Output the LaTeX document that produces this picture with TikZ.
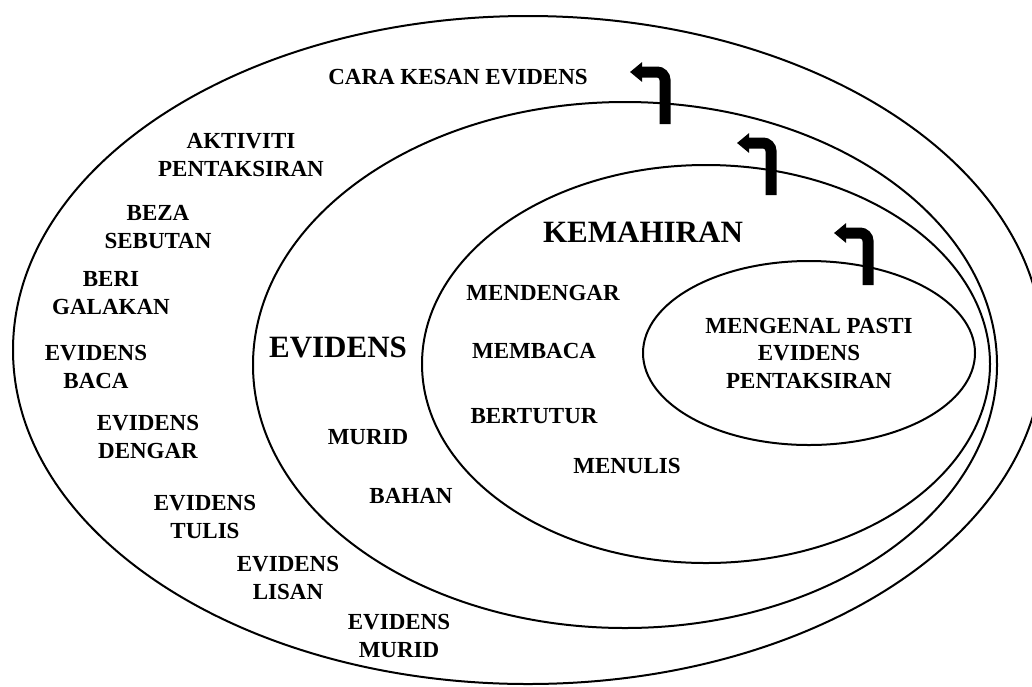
\documentclass[tikz,border=0pt]{standalone}
\usepackage{fontspec}
\setmainfont{Liberation Serif}
\usetikzlibrary{shapes.geometric,arrows.meta}

\begin{document}
\begin{tikzpicture}[x=1pt,y=-1pt,every node/.style={font=\fontsize{23}{27.5}\selectfont\bfseries,align=center,inner sep=0pt},
	ring/.style={shape=ellipse,draw,line width=2pt},
	bigtext/.style={font=\fontsize{31}{36}\selectfont\bfseries},
	turn/.style={line width=11pt,-{Triangle[length=12pt,width=19pt]},rounded corners=8pt}]
	\clip (0,0) rectangle (1032,686);
	% create the ellipses
	\node (outer)[ring, minimum width=1030pt, minimum height=668pt] at (528,350) {};
	\node (evidens)[ring, minimum width=744pt, minimum height=526pt] at (625,365) {};
	\node (kemahiran)[ring, minimum width=568pt, minimum height=398pt] at (706,364) {};
	\node (core)[ring, minimum width=332pt, minimum height=184pt] at (809,353) {MENGENAL PASTI\\EVIDENS\\PENTAKSIRAN};

	% labels of the outer ring
	\node (cara) at (458,77) {CARA KESAN EVIDENS};
	\node (aktiviti) at (241,155) {AKTIVITI\\PENTAKSIRAN};
	\node (beza) at (158,227) {BEZA\\SEBUTAN};
	\node (beri) at (111,293) {BERI\\GALAKAN};
	\node (evbaca) at (96,367) {EVIDENS\\BACA};
	\node (evdengar) at (148,437) {EVIDENS\\DENGAR};
	\node (evtulis) at (205,517) {EVIDENS\\TULIS};
	\node (evlisan) at (288,578) {EVIDENS\\LISAN};
	\node (evmurid) at (399,636) {EVIDENS\\MURID};

	% labels of the middle rings
	\node (evtitle)[bigtext] at (338,347) {EVIDENS};
	\node (murid) at (368,437) {MURID};
	\node (bahan) at (411,496) {BAHAN};
	\node (kemtitle)[bigtext] at (643,232) {KEMAHIRAN};
	\node (mendengar) at (543,293) {MENDENGAR};
	\node (membaca) at (534,351) {MEMBACA};
	\node (bertutur) at (534,416) {BERTUTUR};
	\node (menulis) at (627,466) {MENULIS};

	% draw the turning arrows
	\draw[turn] (665,124) -- (665,72) -- (630,72);
	\draw[turn] (771,195) -- (771,143) -- (737,143);
	\draw[turn] (868,285) -- (868,233) -- (834,233);

\end{tikzpicture}
\end{document}
